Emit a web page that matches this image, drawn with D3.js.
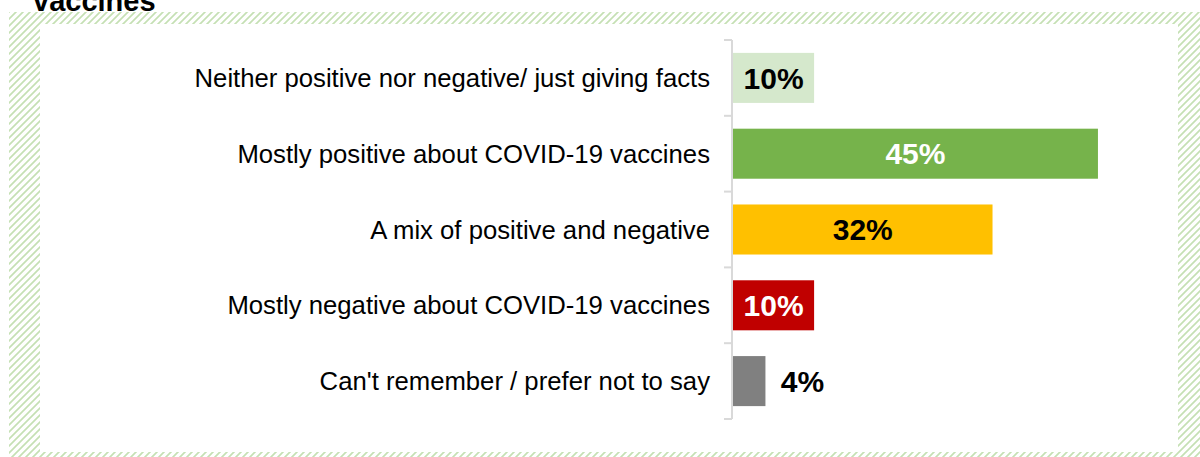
<!DOCTYPE html>
<html>
<head>
<meta charset="utf-8">
<script src="https://cdn.jsdelivr.net/npm/d3@7"></script>
<style>
  html, body { margin: 0; padding: 0; background: #ffffff; }
  svg { display: block; }
</style>
</head>
<body>
<svg id="chart" width="1200" height="457"></svg>
<script>
// Tone of posts seen about COVID-19 vaccines (% of respondents)
const categories = [
  "Neither positive nor negative/ just giving facts",
  "Mostly positive about COVID-19 vaccines",
  "A mix of positive and negative",
  "Mostly negative about COVID-19 vaccines",
  "Can't remember / prefer not to say"
];
const values = [10, 45, 32, 10, 4];
const valueLabels = ["10%", "45%", "32%", "10%", "4%"];
const barColors = ["#d5e8cc", "#76b34b", "#ffc000", "#c00000", "#808080"];
const labelColors = ["#000000", "#ffffff", "#000000", "#ffffff", "#000000"];
const titleTail = "vaccines";

const W = 1200, H = 457;
const svg = d3.select("#chart");

// Hatched green frame around the panel
const defs = svg.append("defs");
const pat = defs.append("pattern")
  .attr("id", "hatch")
  .attr("patternUnits", "userSpaceOnUse")
  .attr("width", 7).attr("height", 7);
pat.append("path")
  .attr("d", "M-1,8 L8,-1 M-4,4 L4,-4 M3,11 L11,3")
  .attr("stroke", "#c5e0b4")
  .attr("stroke-width", 1.7);

svg.append("rect")
  .attr("x", 9).attr("y", 12)
  .attr("width", W - 9).attr("height", H - 12)
  .attr("fill", "url(#hatch)");
svg.append("rect")
  .attr("x", 40).attr("y", 24)
  .attr("width", 1178 - 40).attr("height", 452 - 24)
  .attr("fill", "#ffffff");

// Tail end of the title, running off the top edge
svg.append("text")
  .attr("x", 33).attr("y", 10.5)
  .attr("font-family", "Liberation Sans, Arial, sans-serif")
  .attr("font-weight", "bold")
  .attr("font-size", 29)
  .attr("fill", "#000000")
  .text(titleTail);

// Scales
const y = d3.scaleBand()
  .domain(categories)
  .range([40, 419])
  .paddingInner(0.34)
  .paddingOuter(0.17);

const x = d3.scaleLinear()
  .domain([0, 50])
  .range([733, 1138.5]);

// Category axis: vertical line with ticks between the bands
const axisX = 732;
const axisG = svg.append("g");
axisG.append("line")
  .attr("x1", axisX).attr("x2", axisX)
  .attr("y1", y.range()[0]).attr("y2", y.range()[1])
  .attr("stroke", "#d9d9d9").attr("stroke-width", 2);
const boundaries = d3.range(categories.length + 1)
  .map(i => y.range()[0] + i * y.step());
axisG.selectAll("line.tick")
  .data(boundaries)
  .join("line")
  .attr("class", "tick")
  .attr("x1", axisX - 8).attr("x2", axisX)
  .attr("y1", d => d).attr("y2", d => d)
  .attr("stroke", "#d9d9d9").attr("stroke-width", 2);

// Category labels
svg.append("g").selectAll("text")
  .data(categories)
  .join("text")
  .attr("x", 710)
  .attr("y", d => y(d) + y.bandwidth() / 2 + 9)
  .attr("text-anchor", "end")
  .attr("font-family", "Liberation Sans, Arial, sans-serif")
  .attr("font-size", 25.7)
  .attr("fill", "#000000")
  .text(d => d);

// Bars
svg.append("g").selectAll("rect")
  .data(categories)
  .join("rect")
  .attr("x", x(0))
  .attr("y", d => y(d))
  .attr("width", (d, i) => x(values[i]) - x(0))
  .attr("height", y.bandwidth())
  .attr("fill", (d, i) => barColors[i]);

// Value labels: centred inside wide bars, beside the narrow one
svg.append("g").selectAll("text")
  .data(categories)
  .join("text")
  .attr("x", (d, i) => {
    const w = x(values[i]) - x(0);
    return w > 60 ? x(0) + w / 2 : x(values[i]) + 37;
  })
  .attr("y", d => y(d) + y.bandwidth() / 2 + 10.7)
  .attr("text-anchor", "middle")
  .attr("font-family", "Liberation Sans, Arial, sans-serif")
  .attr("font-weight", "bold")
  .attr("font-size", 30)
  .attr("fill", (d, i) => labelColors[i])
  .text((d, i) => valueLabels[i]);
</script>
</body>
</html>
